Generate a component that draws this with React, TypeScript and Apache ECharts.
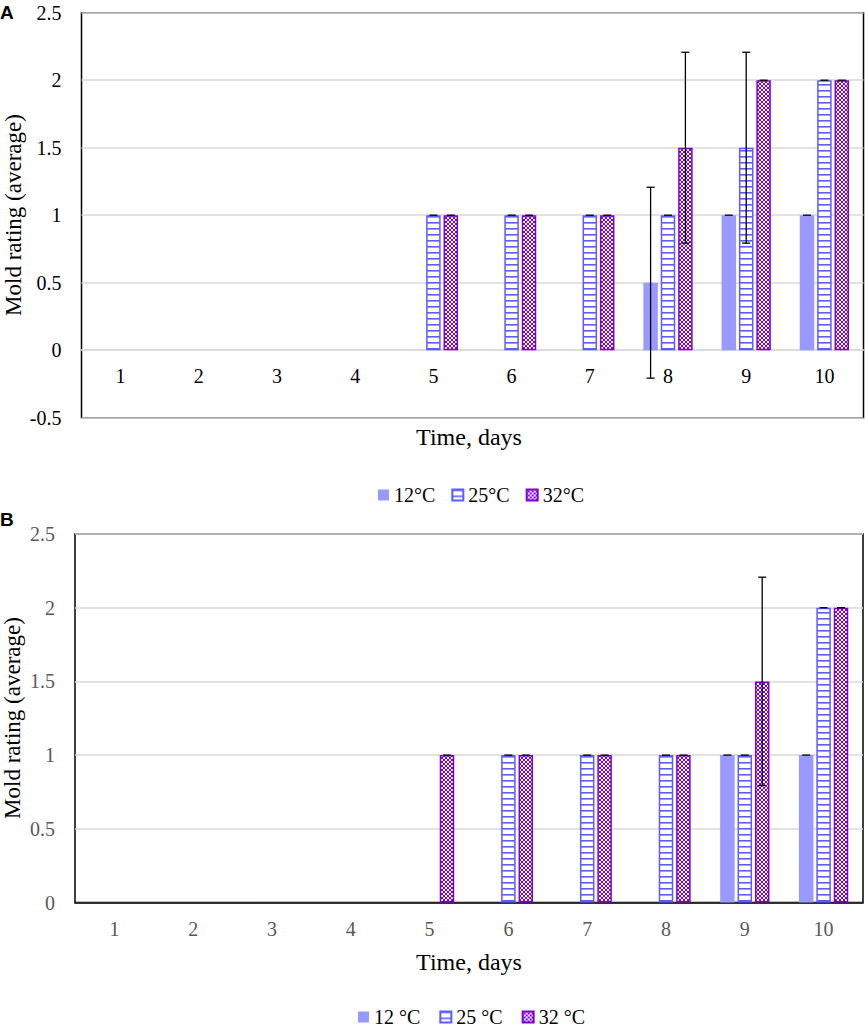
import React, { useEffect, useRef } from "react";
import * as echarts from "echarts";

const days = ["1", "2", "3", "4", "5", "6", "7", "8", "9", "10"];

// Panel A
const a12 = [0, 0, 0, 0, 0, 0, 0, 0.5, 1, 1];
const a25 = [0, 0, 0, 0, 1, 1, 1, 1, 1.5, 2];
const a32 = [0, 0, 0, 0, 1, 1, 1, 1.5, 2, 2];
const a12Err = [0, 0, 0, 0, 0, 0, 0, 0.707, 0, 0];
const a25Err = [0, 0, 0, 0, 0, 0, 0, 0, 0.707, 0];
const a32Err = [0, 0, 0, 0, 0, 0, 0, 0.707, 0, 0];

// Panel B
const b12 = [0, 0, 0, 0, 0, 0, 0, 0, 1, 1];
const b25 = [0, 0, 0, 0, 0, 1, 1, 1, 1, 2];
const b32 = [0, 0, 0, 0, 1, 1, 1, 1, 1.5, 2];
const b12Err = [0, 0, 0, 0, 0, 0, 0, 0, 0, 0];
const b25Err = [0, 0, 0, 0, 0, 0, 0, 0, 0, 0];
const b32Err = [0, 0, 0, 0, 0, 0, 0, 0, 0.707, 0];

const namesA = ["12°C", "25°C", "32°C"];
const namesB = ["12 °C", "25 °C", "32 °C"];

const SERIF = "Liberation Serif";
const C12 = "#9999ff";
const C25 = "#5c5cff";
const C32 = "#8000d0";
const BAR_W = 14.5;
const GAP = 0.2;

function makeHLines() {
  const c = document.createElement("canvas");
  c.width = 4;
  c.height = 6;
  const ctx = c.getContext("2d")!;
  ctx.fillStyle = "#ffffff";
  ctx.fillRect(0, 0, 4, 6);
  ctx.fillStyle = C25;
  ctx.fillRect(0, 0, 4, 1.6);
  return c;
}

function makeCross() {
  const c = document.createElement("canvas");
  c.width = 4;
  c.height = 4;
  const ctx = c.getContext("2d")!;
  ctx.fillStyle = "#ffffff";
  ctx.fillRect(0, 0, 4, 4);
  ctx.strokeStyle = C32;
  ctx.lineWidth = 1.0;
  ctx.beginPath();
  ctx.moveTo(-1, -1);
  ctx.lineTo(5, 5);
  ctx.moveTo(5, -1);
  ctx.lineTo(-1, 5);
  ctx.stroke();
  return c;
}

export default function App() {
  const ref = useRef<HTMLDivElement>(null);
  useEffect(() => {
    if (!ref.current) return;
    const chart = echarts.init(ref.current, null, { renderer: "svg" });
    const hl = makeHLines();
    const cr = makeCross();
    const pat25 = { image: hl, repeat: "repeat", imageWidth: 4, imageHeight: 6 };
    const pat32 = { image: cr, repeat: "repeat", imageWidth: 4, imageHeight: 4 };

    const toBar = (arr: number[]) =>
      arr.map((v) => (v === 0 ? { value: 0, itemStyle: { borderWidth: 0 } } : v));

    const styles = [
      { color: C12, borderWidth: 0 },
      { color: pat25, borderColor: C25, borderWidth: 1.5 },
      { color: pat32, borderColor: C32, borderWidth: 1.5 },
    ];

    const offsetOf = (k: number) => (k - 1) * BAR_W * (1 + GAP);

    const errSeries = (vals: number[], errs: number[], k: number, gi: number) => ({
      type: "custom",
      xAxisIndex: gi,
      yAxisIndex: gi,
      z: 10,
      silent: true,
      encode: { x: 0, y: 1 },
      data: vals
        .map((v, i) => [i, v, errs[i]])
        .filter((d) => d[1] !== 0),
      renderItem: (params: any, api: any) => {
        const idx = api.value(0);
        const v = api.value(1);
        const e = api.value(2);
        const top = api.coord([idx, v + e]);
        const bot = api.coord([idx, v - e]);
        const x = top[0] + offsetOf(k);
        const cap = 4;
        const style = { stroke: "#000", lineWidth: 1.3 };
        const children: any[] = [
          { type: "line", shape: { x1: x - cap, y1: top[1], x2: x + cap, y2: top[1] }, style },
        ];
        if (e > 0) {
          children.push({ type: "line", shape: { x1: x, y1: top[1], x2: x, y2: bot[1] }, style });
          children.push({ type: "line", shape: { x1: x - cap, y1: bot[1], x2: x + cap, y2: bot[1] }, style });
        }
        return { type: "group", children };
      },
    });

    const barSeries = (name: string, vals: number[], k: number, gi: number) => ({
      type: "bar",
      name,
      xAxisIndex: gi,
      yAxisIndex: gi,
      barWidth: BAR_W,
      barGap: GAP * 100 + "%",
      itemStyle: styles[k],
      data: toBar(vals),
    });

    const xAxisBase = (gi: number, color: string, offset: number) => ({
      type: "category",
      gridIndex: gi,
      data: days,
      boundaryGap: true,
      offset,
      axisTick: { show: false },
      axisLine: { show: true, onZero: false, lineStyle: { color: gi === 0 ? "#d9d9d9" : "#000", width: 1.5 } },
      axisLabel: { color, fontFamily: SERIF, fontSize: 20, margin: 16 },
    });

    const yAxisBase = (gi: number, min: number, color: string) => ({
      type: "value",
      gridIndex: gi,
      min,
      max: 2.5,
      interval: 0.5,
      axisLine: { show: false },
      axisTick: { show: false },
      splitLine: { show: true, lineStyle: { color: "#d9d9d9", width: 1.5 } },
      axisLabel: { color, fontFamily: SERIF, fontSize: 20, margin: 20 },
    });

    const legendBase = (names: string[], left: number, top: number, gap: number) => ({
      data: names,
      left,
      top,
      padding: 0,
      icon: "rect",
      itemWidth: 11,
      itemHeight: 11,
      itemGap: gap,
      selectedMode: false,
      textStyle: { color: "#000", fontFamily: SERIF, fontSize: 20 },
    });

    const txt = (text: string, x: number, y: number, size: number, extra: any = {}) => ({
      type: "text",
      x,
      y,
      silent: true,
      style: {
        text,
        fontFamily: SERIF,
        fontSize: size,
        fill: "#000",
        textAlign: "center",
        textVerticalAlign: "middle",
      },
      ...extra,
    });

    chart.setOption({
      animation: false,
      grid: [
        { left: 81.5, top: 12.7, width: 782, height: 405, show: true, borderColor: "#000", borderWidth: 1.5, backgroundColor: "transparent" },
        { left: 75, top: 534, width: 788, height: 368.5, show: true, borderColor: "#000", borderWidth: 1.5, backgroundColor: "transparent" },
      ],
      xAxis: [xAxisBase(0, "#000", -67.5), xAxisBase(1, "#595959", 0)],
      yAxis: [yAxisBase(0, -0.5, "#000"), yAxisBase(1, 0, "#595959")],
      legend: [legendBase(namesA, 378, 485, 16), legendBase(namesB, 358, 1007, 19)],
      series: [
        barSeries(namesA[0], a12, 0, 0),
        barSeries(namesA[1], a25, 1, 0),
        barSeries(namesA[2], a32, 2, 0),
        barSeries(namesB[0], b12, 0, 1),
        barSeries(namesB[1], b25, 1, 1),
        barSeries(namesB[2], b32, 2, 1),
        errSeries(a12, a12Err, 0, 0),
        errSeries(a25, a25Err, 1, 0),
        errSeries(a32, a32Err, 2, 0),
        errSeries(b12, b12Err, 0, 1),
        errSeries(b25, b25Err, 1, 1),
        errSeries(b32, b32Err, 2, 1),
      ],
      graphic: [
        {
          type: "text",
          x: 0,
          y: 3,
          silent: true,
          style: { text: "A", fontFamily: "Liberation Sans", fontWeight: "bold", fontSize: 19, fill: "#000" },
        },
        {
          type: "text",
          x: 0,
          y: 510,
          silent: true,
          style: { text: "B", fontFamily: "Liberation Sans", fontWeight: "bold", fontSize: 19, fill: "#000" },
        },
        txt("Mold rating (average)", 13, 215, 23, { rotation: Math.PI / 2 }),
        txt("Mold rating (average)", 12, 718, 23, { rotation: Math.PI / 2 }),
        txt("Time, days", 469, 437, 24),
        txt("Time, days", 469, 962, 24),
      ],
    });
    return () => chart.dispose();
  }, []);
  return (
    <div
      ref={ref}
      style={{ position: "fixed", left: 0, top: 0, width: 865, height: 1028, background: "#fff" }}
    />
  );
}
